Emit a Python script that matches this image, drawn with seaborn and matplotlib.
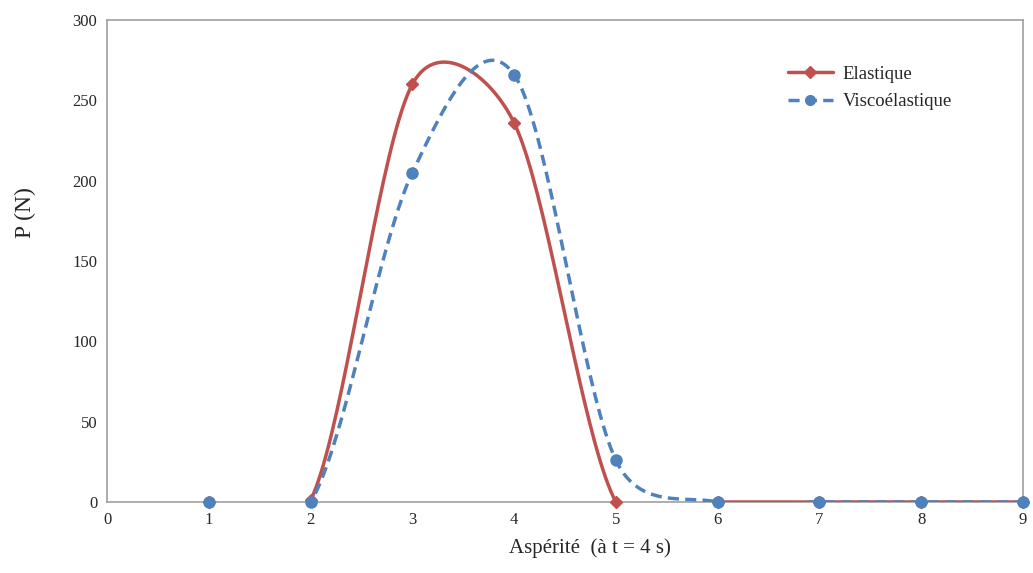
import numpy as np
import pandas as pd
import seaborn as sns
import matplotlib.pyplot as plt

# ==========================
# Data
# ==========================
asperite_elas = [1, 2, 3, 4, 5, 6, 7, 8, 9]
p_elas = [0, 1, 260, 236, 0, 0, 0, 0, 0]

asperite_visco = [1, 2, 3, 4, 5, 6, 7, 8, 9]
p_visco = [0, 0, 205, 266, 26, 0, 0, 0, 0]

red = "#C0504D"
blue = "#4F81BD"


# Excel-style smoothed line: bezier segments, control points at 1/6 of the
# neighbour chord, capped at half the segment length (in screen units)
def smooth(xs, ys, sx, sy, n=40):
    x = np.asarray(xs, float) * sx
    y = np.asarray(ys, float) * sy
    px = np.concatenate([[x[0]], x, [x[-1]]])
    py = np.concatenate([[y[0]], y, [y[-1]]])
    out_x, out_y = [], []
    t = np.linspace(0, 1, n)
    for i in range(1, len(px) - 2):
        seg = np.hypot(px[i + 1] - px[i], py[i + 1] - py[i])
        d1 = np.array([px[i + 1] - px[i - 1], py[i + 1] - py[i - 1]])
        d2 = np.array([px[i + 2] - px[i], py[i + 2] - py[i]])
        f1 = min(1 / 6, seg / 2 / max(np.hypot(*d1), 1e-9))
        f2 = min(1 / 6, seg / 2 / max(np.hypot(*d2), 1e-9))
        c1x, c1y = px[i] + f1 * d1[0], py[i] + f1 * d1[1]
        c2x, c2y = px[i + 1] - f2 * d2[0], py[i + 1] - f2 * d2[1]
        bx = ((1 - t) ** 3 * px[i] + 3 * (1 - t) ** 2 * t * c1x
              + 3 * (1 - t) * t ** 2 * c2x + t ** 3 * px[i + 1])
        by = ((1 - t) ** 3 * py[i] + 3 * (1 - t) ** 2 * t * c1y
              + 3 * (1 - t) * t ** 2 * c2y + t ** 3 * py[i + 1])
        out_x.extend(bx / sx)
        out_y.extend(by / sy)
    return pd.DataFrame({"x": out_x, "y": out_y})


# ==========================
# Plot
# ==========================
sns.set_style("white")
plt.rcParams["font.family"] = ["Liberation Serif", "DejaVu Serif"]

fig = plt.figure(figsize=(10.33, 5.73), dpi=100)
ax = fig.add_axes([0.1036, 0.1239, 0.8867, 0.8412])

ax.set_xlim(0, 9)
ax.set_ylim(0, 300)

# pixels per data unit, so smoothing is done in screen space
bbox = ax.get_window_extent()
sx = bbox.width / 9
sy = bbox.height / 300

se = smooth(asperite_elas, p_elas, sx, sy)
sv = smooth(asperite_visco, p_visco, sx, sy)

sns.lineplot(data=se, x="x", y="y", sort=False, color=red, lw=2.5, ax=ax, zorder=3)
sns.lineplot(data=sv, x="x", y="y", sort=False, color=blue, lw=2.5,
             ax=ax, zorder=4)
ax.lines[-1].set_dashes([3.2, 1.8])

ax.plot(asperite_elas, p_elas, ls="none", marker="D", ms=6, color=red,
        zorder=5, clip_on=False)
ax.plot(asperite_visco, p_visco, ls="none", marker="o", ms=8, color=blue,
        zorder=6, clip_on=False)

# legend handles
ax.plot([], [], color=red, lw=2.5, marker="D", ms=6, label="Elastique")
ax.plot([], [], color=blue, lw=2.5, ls=(0, (3.2, 1.8)), marker="o", ms=7,
        label="Viscoélastique")
ax.legend(loc="upper left", bbox_to_anchor=(0.725, 0.94), frameon=False,
          fontsize=13.5, handlelength=2.4, handletextpad=0.5,
          labelspacing=0.55)

ax.set_xticks(range(0, 10))
ax.set_yticks(range(0, 301, 50))
ax.tick_params(axis="both", direction="in", length=5, color="#909090",
               labelsize=12, pad=7)
for s in ax.spines.values():
    s.set_color("#a0a0a0")
    s.set_linewidth(1.2)

ax.set_xlabel("Aspérité  (à t = 4 s)", fontsize=15)
ax.set_ylabel("P (N)", fontsize=17)
ax.xaxis.set_label_coords(0.527, -0.075)
ax.yaxis.set_label_coords(-0.078, 0.60)

fig.savefig("out.png", dpi=100)
